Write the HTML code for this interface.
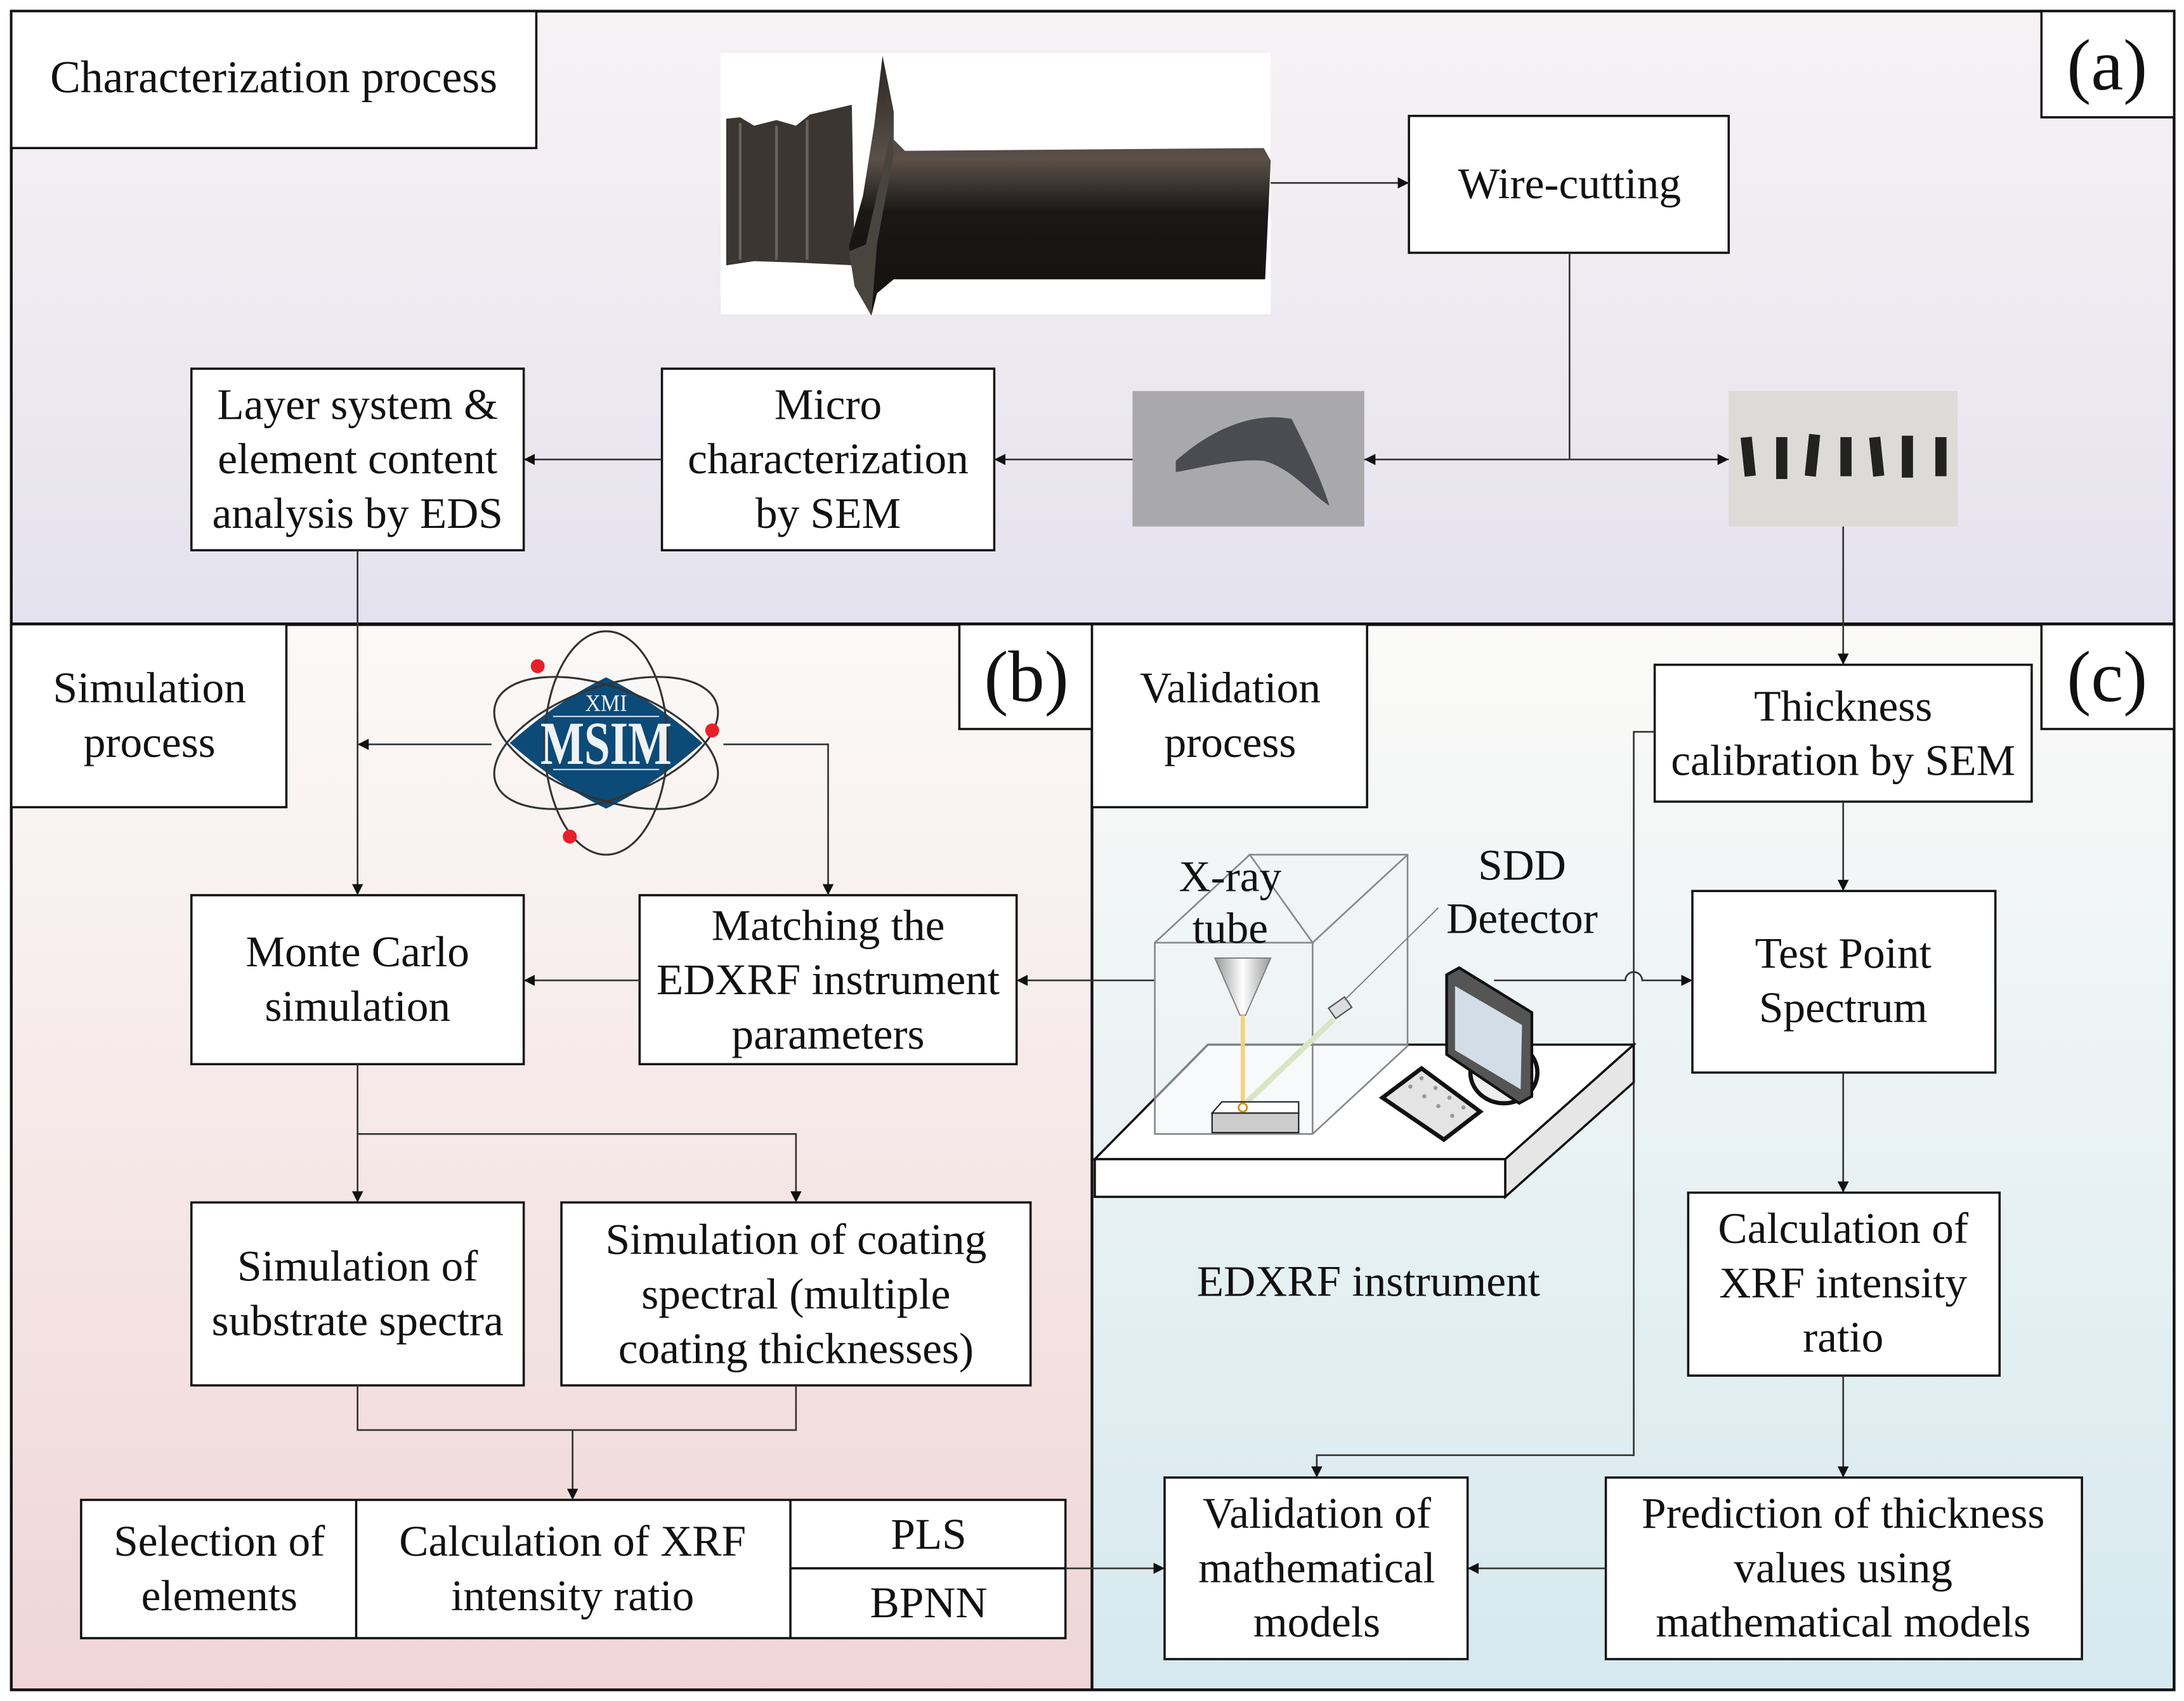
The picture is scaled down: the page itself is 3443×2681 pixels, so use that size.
<!DOCTYPE html>
<html><head><meta charset="utf-8"><style>
html,body{margin:0;padding:0;background:#fff;}
svg{display:block;}
text{font-family:"Liberation Serif",serif;fill:#111;}
</style></head><body>
<svg width="3443" height="2681" viewBox="0 0 1564 1218" xmlns="http://www.w3.org/2000/svg">
<defs>
<linearGradient id="ga" x1="0" y1="0" x2="0" y2="1"><stop offset="0" stop-color="#f7f2f4"/><stop offset="1" stop-color="#e4e2ee"/></linearGradient>
<linearGradient id="gb" x1="0" y1="0" x2="0" y2="1"><stop offset="0" stop-color="#fbfaf8"/><stop offset="1" stop-color="#f0d5d6"/></linearGradient>
<linearGradient id="gc" x1="0" y1="0" x2="0" y2="1"><stop offset="0" stop-color="#fbfaf8"/><stop offset="1" stop-color="#d6e9ef"/></linearGradient>
<linearGradient id="blade" x1="0" y1="0" x2="0" y2="1"><stop offset="0" stop-color="#2a2623"/><stop offset="0.4" stop-color="#5a5048"/><stop offset="0.6" stop-color="#1a1816"/><stop offset="1" stop-color="#141210"/></linearGradient>
<linearGradient id="tube" x1="0" y1="0" x2="1" y2="0"><stop offset="0" stop-color="#999"/><stop offset="0.5" stop-color="#fff"/><stop offset="1" stop-color="#999"/></linearGradient>
<marker id="ar" viewBox="0 0 10 10" refX="10" refY="5" markerWidth="8" markerHeight="8" orient="auto" markerUnits="userSpaceOnUse"><path d="M0,0 L10,5 L0,10 z" fill="#111"/></marker>
</defs>
<rect x="0" y="0" width="1564" height="1218" fill="#fff"/>
<rect x="8" y="8" width="1549" height="439" fill="url(#ga)"/>
<rect x="8" y="447" width="774" height="763" fill="url(#gb)"/>
<rect x="782" y="447" width="775" height="763" fill="url(#gc)"/>
<rect x="8" y="8" width="1549" height="1202" fill="none" stroke="#111" stroke-width="2"/>
<line x1="8" y1="447" x2="1557" y2="447" stroke="#111" stroke-width="2.5"/>
<line x1="782" y1="447" x2="782" y2="1210" stroke="#111" stroke-width="2"/>

<g fill="#fff" stroke="#111" stroke-width="1.6">
<rect x="8" y="8" width="376" height="98"/>
<rect x="1462" y="8" width="95" height="76"/>
<rect x="1009" y="83" width="229" height="98"/>
<rect x="474" y="264" width="238" height="130"/>
<rect x="137" y="264" width="238" height="130"/>
<rect x="8" y="447" width="197" height="131"/>
<rect x="687" y="447" width="95" height="75"/>
<rect x="137" y="641" width="238" height="121"/>
<rect x="458" y="641" width="270" height="121"/>
<rect x="137" y="861" width="238" height="131"/>
<rect x="402" y="861" width="336" height="131"/>
<rect x="58" y="1074" width="705" height="99"/>
<rect x="834" y="1058" width="217" height="130"/>
<rect x="1150" y="1058" width="341" height="130"/>
<rect x="782" y="447" width="197" height="131"/>
<rect x="1462" y="447" width="95" height="75"/>
<rect x="1185" y="476" width="270" height="98"/>
<rect x="1212" y="638" width="217" height="130"/>
<rect x="1209" y="854" width="223" height="131"/>
</g>
<g stroke="#111" stroke-width="1.6"><line x1="255" y1="1074" x2="255" y2="1173"/><line x1="566" y1="1074" x2="566" y2="1173"/><line x1="566" y1="1123" x2="763" y2="1123"/></g>

<!-- photos -->
<rect x="516" y="38" width="394" height="187" fill="#fff"/>
<path d="M520,85 L530,84 L540,90 L556,86 L570,90 L580,82 L610,75 L612,190 L570,188 L540,187 L520,190 Z" fill="#3b3632"/>
<g stroke="#6a625a" stroke-width="2"><line x1="530" y1="88" x2="530" y2="186"/><line x1="556" y1="90" x2="556" y2="186"/><line x1="578" y1="86" x2="578" y2="186"/></g>
<path d="M632,40 L640,80 L640,100 L648,108 L905,106 L910,115 L906,200 L640,200 L628,210 L624,226 L612,205 L608,176 L618,140 L626,90 Z" fill="url(#blade)"/>
<path d="M632,40 L638,95 L620,175 L608,180 L612,205 L624,226 L628,175 L640,110 Z" fill="#4a443e"/>
<rect x="811" y="280" width="166" height="97" fill="#a9a9ab"/>
<path d="M842,330 C870,305 900,295 925,300 C935,320 945,340 952,362 C940,355 925,335 905,330 C885,328 860,335 842,338 Z" fill="#4a4c52"/>
<rect x="1238" y="280" width="164" height="97" fill="#dcdbd8"/>
<g fill="#222"><rect x="1248" y="313" width="8" height="28" transform="rotate(-6 1252 327)"/><rect x="1272" y="313" width="8" height="30"/><rect x="1294" y="311" width="8" height="30" transform="rotate(6 1298 326)"/><rect x="1318" y="313" width="8" height="28"/><rect x="1340" y="313" width="8" height="28" transform="rotate(-6 1344 327)"/><rect x="1362" y="312" width="8" height="30"/><rect x="1386" y="313" width="8" height="28"/></g>

<!-- connectors -->
<g stroke="#333" stroke-width="1.2" fill="none">
<line x1="910" y1="131" x2="1009" y2="131" marker-end="url(#ar)"/>
<polyline points="1124,181 1124,329"/>
<line x1="1124" y1="329" x2="977" y2="329" marker-end="url(#ar)"/>
<line x1="1124" y1="329" x2="1238" y2="329" marker-end="url(#ar)"/>
<line x1="811" y1="329" x2="712" y2="329" marker-end="url(#ar)"/>
<line x1="474" y1="329" x2="375" y2="329" marker-end="url(#ar)"/>
<line x1="256" y1="394" x2="256" y2="641" marker-end="url(#ar)"/>
<line x1="352" y1="533" x2="256" y2="533" marker-end="url(#ar)"/>
<polyline points="518,533 593,533 593,641" marker-end="url(#ar)"/>
<line x1="458" y1="702" x2="375" y2="702" marker-end="url(#ar)"/>
<line x1="827" y1="702" x2="728" y2="702" marker-end="url(#ar)"/>
<polyline points="256,762 256,861" marker-end="url(#ar)"/>
<polyline points="256,812 570,812 570,861" marker-end="url(#ar)"/>
<polyline points="256,992 256,1024 570,1024 570,992"/>
<line x1="410" y1="1024" x2="410" y2="1074" marker-end="url(#ar)"/>
<line x1="763" y1="1123" x2="834" y2="1123" marker-end="url(#ar)"/>
<line x1="1150" y1="1123" x2="1051" y2="1123" marker-end="url(#ar)"/>
<line x1="1320" y1="377" x2="1320" y2="476" marker-end="url(#ar)"/>
<line x1="1320" y1="574" x2="1320" y2="638" marker-end="url(#ar)"/>
<line x1="1320" y1="768" x2="1320" y2="854" marker-end="url(#ar)"/>
<line x1="1320" y1="985" x2="1320" y2="1058" marker-end="url(#ar)"/>
<polyline points="1185,524 1170,524 1170,1042 943,1042 943,1058" marker-end="url(#ar)"/>
<path d="M1070,702 L1164,702 A6,6 0 0 1 1176,702 L1212,702" marker-end="url(#ar)"/>
</g>

<!-- MSIM logo -->
<g transform="translate(434,532)">
<path d="M-69,0 Q-35,-30 0,-47 Q35,-30 69,0 Q35,30 0,47 Q-35,30 -69,0 Z" fill="#0c4a78"/>
<g fill="none" stroke="#333" stroke-width="1.4">
<ellipse cx="0" cy="0" rx="44" ry="80"/>
<ellipse cx="0" cy="0" rx="84" ry="40" transform="rotate(20)"/>
<ellipse cx="0" cy="0" rx="84" ry="40" transform="rotate(-20)"/>
</g>
<text x="0" y="-23" text-anchor="middle" font-size="17" textLength="30" lengthAdjust="spacingAndGlyphs" style="fill:#eef2f5">XMI</text>
<line x1="-38" y1="-19" x2="38" y2="-19" stroke="#cde" stroke-width="1"/>
<text x="0" y="15" text-anchor="middle" font-size="44" font-weight="bold" textLength="94" lengthAdjust="spacingAndGlyphs" style="fill:#eef2f5">MSIM</text>
<line x1="-38" y1="19" x2="38" y2="19" stroke="#cde" stroke-width="1"/>
<circle cx="-49" cy="-55" r="5" fill="#e8202a"/><circle cx="76" cy="-9" r="5" fill="#e8202a"/><circle cx="-26" cy="67" r="5" fill="#e8202a"/>
</g>

<!-- instrument -->
<g stroke="#111" stroke-width="1.6">
<polygon points="784,830 865,748 1170,748 1078,830" fill="#fff"/>
<polygon points="784,830 1078,830 1078,857 784,857" fill="#fff"/>
<polygon points="1078,830 1170,748 1170,775 1078,857" fill="#e6e6e6"/>
</g>
<g fill="none" stroke="#888" stroke-width="1.2">
<polygon points="895,612 1008,612 1008,749 940,812 827,812 827,675 940,675" fill="rgba(240,244,246,0.5)"/>
<line x1="827" y1="675" x2="895" y2="612"/><line x1="940" y1="675" x2="1008" y2="612"/><line x1="940" y1="675" x2="940" y2="812"/>
</g>
<polygon points="870,686 910,686 892,727 888,727" fill="url(#tube)" stroke="#777" stroke-width="0.8"/>
<line x1="890" y1="727" x2="890" y2="790" stroke="#f5d27a" stroke-width="3"/>
<line x1="892" y1="790" x2="955" y2="730" stroke="#d9e6c4" stroke-width="4"/>
<rect x="953" y="717" width="14" height="9" fill="#ddd" stroke="#555" transform="rotate(-35 960 722)"/>
<line x1="963" y1="716" x2="1030" y2="650" stroke="#777" stroke-width="0.8"/>
<rect x="868" y="797" width="62" height="14" fill="#ccc" stroke="#222"/>
<polygon points="868,797 875,789 930,789 930,797" fill="#fff" stroke="#222"/>
<circle cx="890" cy="793" r="3" fill="none" stroke="#c8941a" stroke-width="1.3"/>
<ellipse cx="1077" cy="768" rx="24" ry="22" fill="#eee" stroke="#111" stroke-width="3"/>
<polygon points="1036,698 1045,693 1097,725 1097,785 1088,790 1036,755" fill="#555" stroke="#111" stroke-width="2"/>
<polygon points="1042,706 1090,734 1089,780 1042,752" fill="#d3dde8"/>
<polygon points="990,786 1018,765 1060,796 1034,816" fill="#e4e4e4" stroke="#111" stroke-width="3"/>
<g fill="#999"><circle cx="1010" cy="778" r="1.5"/><circle cx="1020" cy="785" r="1.5"/><circle cx="1030" cy="792" r="1.5"/><circle cx="1040" cy="799" r="1.5"/><circle cx="1018" cy="772" r="1.5"/><circle cx="1028" cy="779" r="1.5"/><circle cx="1038" cy="786" r="1.5"/><circle cx="1048" cy="793" r="1.5"/></g>

<!-- texts -->
<g font-size="31.5" text-anchor="middle">
<text x="196" y="66" font-size="32.5">Characterization process</text>
<text x="1509" y="64" font-size="52">(a)</text>
<text x="1124" y="142">Wire-cutting</text>
<text x="593" y="300">Micro</text><text x="593" y="339">characterization</text><text x="593" y="378">by SEM</text>
<text x="256" y="300">Layer system &amp;</text><text x="256" y="339">element content</text><text x="256" y="378">analysis by EDS</text>
<text x="107" y="503">Simulation</text><text x="107" y="542">process</text>
<text x="735" y="502" font-size="52">(b)</text>
<text x="256" y="692">Monte Carlo</text><text x="256" y="731">simulation</text>
<text x="593" y="673">Matching the</text><text x="593" y="712">EDXRF instrument</text><text x="593" y="751">parameters</text>
<text x="256" y="917">Simulation of</text><text x="256" y="956">substrate spectra</text>
<text x="570" y="898">Simulation of coating</text><text x="570" y="937">spectral  (multiple</text><text x="570" y="976">coating thicknesses)</text>
<text x="157" y="1114">Selection of</text><text x="157" y="1153">elements</text>
<text x="410" y="1114">Calculation of XRF</text><text x="410" y="1153">intensity ratio</text>
<text x="665" y="1109">PLS</text><text x="665" y="1158">BPNN</text>
<text x="881" y="503">Validation</text><text x="881" y="542">process</text>
<text x="1509" y="502" font-size="52">(c)</text>
<text x="1320" y="516">Thickness</text><text x="1320" y="555">calibration by SEM</text>
<text x="1320" y="693">Test Point</text><text x="1320" y="732">Spectrum</text>
<text x="1320" y="890">Calculation of</text><text x="1320" y="929">XRF intensity</text><text x="1320" y="968">ratio</text>
<text x="943" y="1094">Validation of</text><text x="943" y="1133">mathematical</text><text x="943" y="1172">models</text>
<text x="1320" y="1094">Prediction of thickness</text><text x="1320" y="1133">values using</text><text x="1320" y="1172">mathematical models</text>
<text x="881" y="638">X-ray</text><text x="881" y="675">tube</text>
<text x="1090" y="630">SDD</text><text x="1090" y="668">Detector</text>
<text x="980" y="928">EDXRF instrument</text>
</g>
</svg>
</body></html>
